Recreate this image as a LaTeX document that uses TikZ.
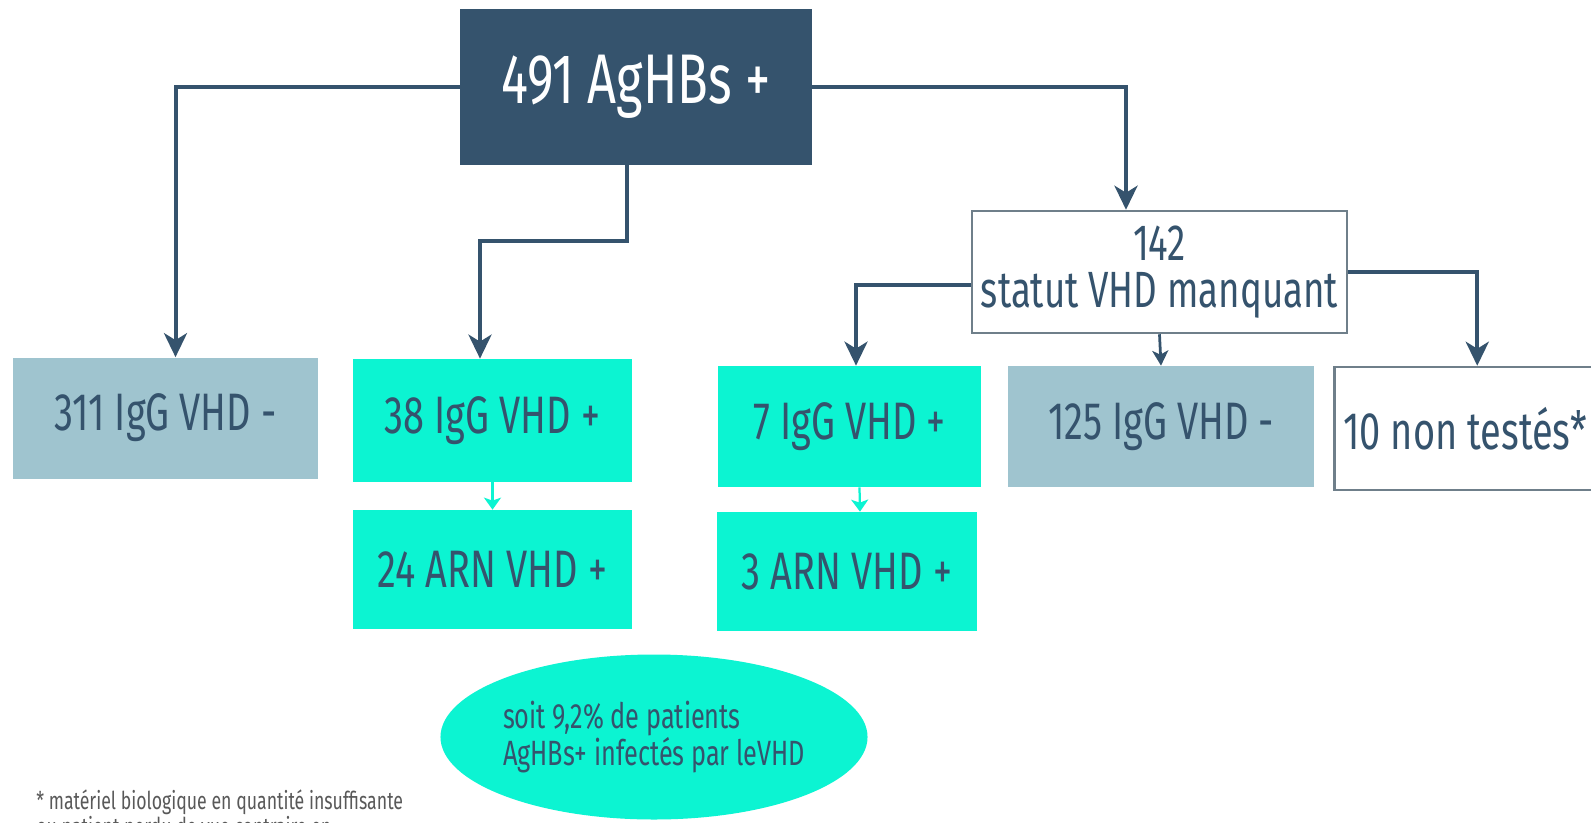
\documentclass[tikz,border=0pt]{standalone}
\usepackage{fontspec}
\setmainfont{Fira Sans}[FakeStretch=0.72]
\usetikzlibrary{arrows.meta,shapes.geometric}
\definecolor{slate}{HTML}{35536D}
\definecolor{aqua}{HTML}{0CF4D2}
\definecolor{haze}{HTML}{9FC4CF}
\definecolor{rim}{HTML}{6F7F8A}

\begin{document}
\begin{tikzpicture}[x=0.2mm, y=-0.2mm,
  tally/.style={inner sep=0pt, minimum height=24.2mm, text=slate,
                font=\fontsize{30}{32}\selectfont, align=center},
  negbox/.style={tally, fill=haze},
  posbox/.style={tally, fill=aqua},
  openbox/.style={tally, fill=white, draw=rim, line width=0.5mm},
  link/.style={draw=slate, line width=0.8mm,
               -{Stealth[length=4.8mm, width=4.6mm, inset=1.4mm]}},
  hop/.style={draw=slate, line width=0.55mm,
              -{Stealth[length=3mm, width=3.2mm, inset=0.8mm]}},
  cue/.style={draw=aqua, line width=0.45mm,
              -{Stealth[length=2.4mm, width=3.4mm, inset=0.6mm]}},
]
  \useasboundingbox (0,0) rectangle (1591,822);
  \clip (0,0) rectangle (1591,822);
  \fill[white] (0,0) rectangle (1591,822);

  % root
  \node[tally, fill=slate, text=white, minimum width=70.4mm, minimum height=31.2mm,
        font=\fontsize{40}{42}\selectfont] (root) at (636,87) {491 AgHBs +};

  % first row
  \node[negbox, minimum width=61mm] (neg1) at (165.5,418) {311 IgG VHD -};
  \node[posbox, minimum width=55.8mm, minimum height=24.6mm] (pos1) at (492.5,420.5) {38 IgG VHD +};
  \node[openbox, minimum width=75mm, minimum height=24.4mm, font=\fontsize{29}{27}\selectfont]
        (miss) at (1159.5,272) {142\\statut VHD manquant};
  \node[posbox, minimum width=52.6mm] (pos2) at (849.5,426.5) {7 IgG VHD +};
  \node[negbox, minimum width=61.2mm] (neg2) at (1161,426.5) {125 IgG VHD -};
  \node[openbox, anchor=west, minimum width=52.4mm, minimum height=24.6mm]
        (untest) at (1333,428.5) {10 non testés*};

  % ARN row
  \node[posbox, minimum width=55.8mm, minimum height=23.8mm] (arn1) at (492.5,569.5) {24 ARN VHD +};
  \node[posbox, minimum width=52mm, minimum height=23.8mm] (arn2) at (847,571.5) {3 ARN VHD +};

  % summary and footnote
  \node[ellipse, fill=aqua, minimum width=69.2mm, minimum height=33mm, inner sep=0pt,
        text=slate, align=left, font=\fontsize{20}{16}\selectfont]
        (rate) at (654,737) {soit 9,2\% de patients\\AgHBs+ infectés par leVHD};
  \node[anchor=north west, inner sep=0pt, align=left, text=black!65,
        font=\fontsize{14}{13}\selectfont]
        (note) at (36,789) {* matériel biologique en quantité insuffisante\\ou patient perdu de vue contraire en};

  % connectors
  \draw[link] (root.west) -| ([xshift=2mm]neg1.north);
  \draw[link] (root.south) ++(-9,0) -- ++(0,76) -| ([xshift=-2.5mm]pos1.north);
  \draw[link] (root.east) -| ([xshift=-6.7mm]miss.north);
  \draw[link] ([yshift=-2.6mm]miss.west) -| ([xshift=1.3mm]pos2.north);
  \draw[link] (miss.east) -| ([xshift=2.4mm]untest.north);
  \draw[hop] (miss.south) -- (neg2.north);
  \draw[cue] (pos1.south) -- (arn1.north);
  \draw[cue] ([xshift=2mm]pos2.south) -- ([xshift=2.6mm]arn2.north);
\end{tikzpicture}
\end{document}
